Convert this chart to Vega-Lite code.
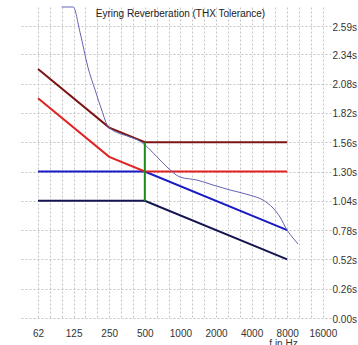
{
  "$schema": "https://vega.github.io/schema/vega-lite/v6.json",
  "width": 311,
  "height": 311,
  "autosize": {"type": "none"},
  "padding": {"left": 20, "top": 7, "right": 27, "bottom": 27},
  "background": "white",
  "title": {
    "text": "Eyring Reverberation (THX Tolerance)",
    "font": "Liberation Sans",
    "fontSize": 10,
    "fontWeight": "normal",
    "color": "#222222",
    "anchor": "middle",
    "frame": "group",
    "baseline": "alphabetic",
    "offset": 0,
    "dx": 5,
    "dy": 22
  },
  "config": {
    "view": {"stroke": null},
    "axis": {
      "domain": false,
      "ticks": false,
      "tickSize": 0,
      "gridColor": "#c4c4c4",
      "gridDash": [2, 2],
      "gridWidth": 1,
      "labelFont": "Liberation Sans",
      "labelFontSize": 10,
      "labelColor": "#333333",
      "titleFont": "Liberation Sans",
      "titleFontSize": 10,
      "titleFontWeight": "normal",
      "titleColor": "#333333"
    }
  },
  "data": {
    "values": [
      {"series": "navy", "f": 62.5, "t": 1.04},
      {"series": "navy", "f": 500, "t": 1.04},
      {"series": "navy", "f": 8000, "t": 0.52},
      {"series": "blue", "f": 62.5, "t": 1.30},
      {"series": "blue", "f": 500, "t": 1.30},
      {"series": "blue", "f": 8000, "t": 0.78},
      {"series": "red", "f": 62.5, "t": 1.95},
      {"series": "red", "f": 250, "t": 1.43},
      {"series": "red", "f": 500, "t": 1.30},
      {"series": "red", "f": 8000, "t": 1.30},
      {"series": "maroon", "f": 62.5, "t": 2.21},
      {"series": "maroon", "f": 250, "t": 1.69},
      {"series": "maroon", "f": 500, "t": 1.56},
      {"series": "maroon", "f": 8000, "t": 1.56},
      {"series": "measured", "f": 99, "t": 2.76},
      {"series": "measured", "f": 124, "t": 2.76},
      {"series": "measured", "f": 142, "t": 2.53},
      {"series": "measured", "f": 165, "t": 2.227},
      {"series": "measured", "f": 190, "t": 2.023},
      {"series": "measured", "f": 216, "t": 1.846},
      {"series": "measured", "f": 246, "t": 1.695},
      {"series": "measured", "f": 375, "t": 1.606},
      {"series": "measured", "f": 438, "t": 1.579},
      {"series": "measured", "f": 502, "t": 1.535},
      {"series": "measured", "f": 634, "t": 1.43},
      {"series": "measured", "f": 770, "t": 1.34},
      {"series": "measured", "f": 992, "t": 1.251},
      {"series": "measured", "f": 1382, "t": 1.224},
      {"series": "measured", "f": 1887, "t": 1.18},
      {"series": "measured", "f": 2626, "t": 1.136},
      {"series": "measured", "f": 3877, "t": 1.09},
      {"series": "measured", "f": 4994, "t": 1.047},
      {"series": "measured", "f": 6070, "t": 0.976},
      {"series": "measured", "f": 6955, "t": 0.896},
      {"series": "measured", "f": 7968, "t": 0.781},
      {"series": "measured", "f": 8957, "t": 0.71},
      {"series": "measured", "f": 9870, "t": 0.657},
      {"series": "green", "f": 500, "t": 1.04},
      {"series": "green", "f": 500, "t": 1.56}
    ]
  },
  "encoding": {
    "x": {
      "field": "f",
      "type": "quantitative",
      "scale": {"type": "log", "domain": [44, 18770], "nice": false},
      "axis": {
        "title": "f in Hz",
        "titleX": 263,
        "titleY": 20,
        "titleAlign": "center",
        "titleBaseline": "top",
        "titleAnchor": null,
        "grid": true,
        "labelOverlap": false,
        "labelFlush": false,
        "labelPadding": 10,
        "labelBaseline": "top",
        "values": [62.5, 78.75, 99.2, 125, 157.5, 198.4, 250, 315, 397, 500, 630, 794, 1000, 1260, 1587, 2000, 2520, 3175, 4000, 5040, 6350, 8000, 10080, 12700, 16000],
        "labelExpr": "datum.value == 62.5 ? '62' : (datum.value == 125 || datum.value == 250 || datum.value == 500 || datum.value == 1000 || datum.value == 2000 || datum.value == 4000 || datum.value == 8000 || datum.value == 16000) ? '' + datum.value : ''"
      }
    },
    "y": {
      "field": "t",
      "type": "quantitative",
      "scale": {"domain": [0, 2.76], "nice": false, "zero": true},
      "axis": {
        "title": null,
        "orient": "right",
        "grid": true,
        "labelPadding": 1,
        "labelAlign": "left",
        "labelBaseline": "middle",
        "labelOffset": 1,
        "labelOverlap": false,
        "labelFlush": false,
        "values": [0, 0.26, 0.52, 0.78, 1.04, 1.30, 1.56, 1.82, 2.08, 2.34, 2.59],
        "labelExpr": "format(datum.value, '.2f') + 's'"
      }
    },
    "color": {
      "field": "series",
      "type": "nominal",
      "legend": null,
      "scale": {
        "domain": ["navy", "blue", "red", "maroon", "measured", "green"],
        "range": ["#141450", "#1a1ac4", "#e02222", "#7c1414", "#6464b4", "#1e8c1e"]
      }
    }
  },
  "layer": [
    {
      "transform": [{"filter": "datum.series != 'measured' && datum.series != 'green'"}],
      "mark": {"type": "line", "strokeWidth": 2}
    },
    {
      "transform": [{"filter": "datum.series == 'measured'"}],
      "mark": {"type": "line", "strokeWidth": 1, "interpolate": "monotone"}
    },
    {
      "transform": [{"filter": "datum.series == 'green'"}],
      "mark": {"type": "line", "strokeWidth": 2}
    }
  ]
}
